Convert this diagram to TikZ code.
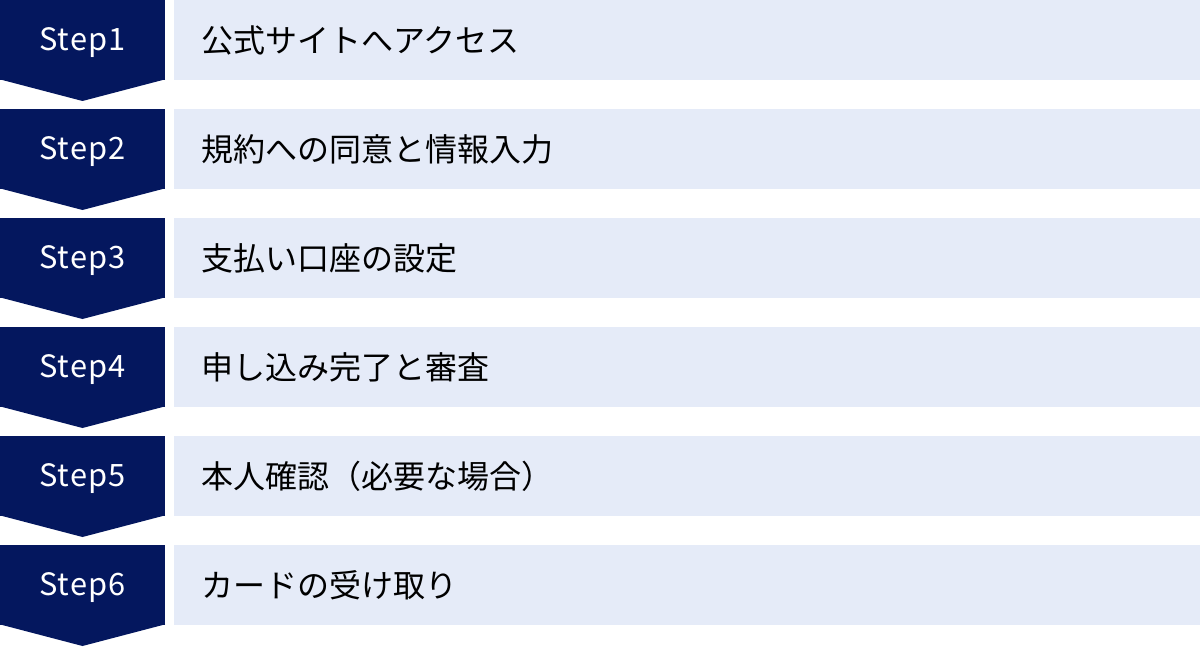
\documentclass[tikz,border=0pt]{standalone}
\usepackage{fontspec}
\setmainfont{Noto Sans}
\newfontfamily\jpfont{Noto Sans CJK JP}
\newfontfamily\stepfont[LetterSpace=4]{Noto Sans CJK JP}
\usepackage{tikz}
\usetikzlibrary{positioning,calc}
\definecolor{stepnavy}{HTML}{04175E}
\definecolor{barblue}{HTML}{E5EBF8}

\begin{document}
\begin{tikzpicture}[
	stepbox/.style = {fill=stepnavy, text=white, minimum width=82.5pt, minimum height=40pt,
		inner sep=0pt, outer sep=0pt, text height=10.4pt, text depth=0pt,
		font=\stepfont\fontsize{15.4}{18}\selectfont},
	bar/.style = {fill=barblue, minimum height=40pt, text width=486pt, inner xsep=13.5pt,
		inner ysep=0pt, outer sep=0pt, align=left, font=\jpfont\fontsize{16}{19}\selectfont},
	tip/.style = {fill=stepnavy}
]
	\useasboundingbox (0,0) rectangle (600pt,-323.5pt);

	\node[stepbox, anchor=north west] (s1) at (0,0) {Step1};
	\node[stepbox, below=14.5pt of s1] (s2) {Step2};
	\node[stepbox, below=14.5pt of s2] (s3) {Step3};
	\node[stepbox, below=14.5pt of s3] (s4) {Step4};
	\node[stepbox, below=14.5pt of s4] (s5) {Step5};
	\node[stepbox, below=14.5pt of s5] (s6) {Step6};

	\node[bar, right=4.5pt of s1] (b1) {公式サイトへアクセス};
	\node[bar, right=4.5pt of s2] (b2) {規約への同意と情報入力};
	\node[bar, right=4.5pt of s3] (b3) {支払い口座の設定};
	\node[bar, right=4.5pt of s4] (b4) {申し込み完了と審査};
	\node[bar, right=4.5pt of s5] (b5) {本人確認（必要な場合）};
	\node[bar, right=4.5pt of s6] (b6) {カードの受け取り};

	% pointed ends under each step
	\fill[tip] ($(s1.south west)+(0,0.3pt)$) -- ($(s1.south east)+(0,0.3pt)$) -- ($(s1.south)+(0,-10.5pt)$) -- cycle;
	\fill[tip] ($(s2.south west)+(0,0.3pt)$) -- ($(s2.south east)+(0,0.3pt)$) -- ($(s2.south)+(0,-10.5pt)$) -- cycle;
	\fill[tip] ($(s3.south west)+(0,0.3pt)$) -- ($(s3.south east)+(0,0.3pt)$) -- ($(s3.south)+(0,-10.5pt)$) -- cycle;
	\fill[tip] ($(s4.south west)+(0,0.3pt)$) -- ($(s4.south east)+(0,0.3pt)$) -- ($(s4.south)+(0,-10.5pt)$) -- cycle;
	\fill[tip] ($(s5.south west)+(0,0.3pt)$) -- ($(s5.south east)+(0,0.3pt)$) -- ($(s5.south)+(0,-10.5pt)$) -- cycle;
	\fill[tip] ($(s6.south west)+(0,0.3pt)$) -- ($(s6.south east)+(0,0.3pt)$) -- ($(s6.south)+(0,-10.5pt)$) -- cycle;
\end{tikzpicture}
\end{document}
